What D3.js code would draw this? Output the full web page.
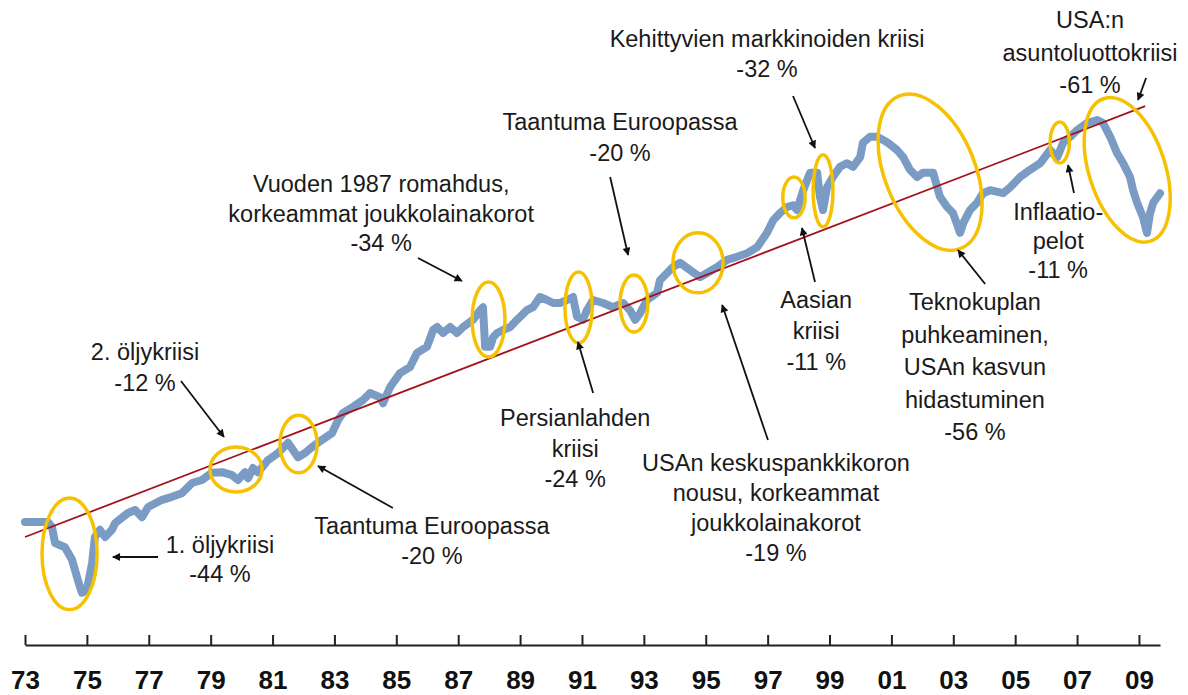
<!DOCTYPE html>
<html>
<head>
<meta charset="utf-8">
<script src="https://cdn.jsdelivr.net/npm/d3@7/dist/d3.min.js"></script>
<style>
  body { margin: 0; background: #fff; }
  svg text { font-family: "Liberation Sans", Arial, Helvetica, sans-serif; }
</style>
</head>
<body>
<div id="chart"></div>
<script>
// osakeindeksi (log-asteikko, suhteellinen taso) luettu kuvasta
var years = [1973.00,1973.74,1973.87,1973.97,1974.29,1974.52,1974.71,1974.84,1975.00,1975.17,
    1975.26,1975.42,1975.59,1975.81,1975.91,1976.33,1976.56,1976.78,1976.98,1977.43,
    1977.75,1978.07,1978.40,1978.72,1979.04,1979.37,1979.69,1979.88,1980.11,1980.21,
    1980.37,1980.53,1980.85,1981.18,1981.50,1981.82,1982.05,1982.28,1982.60,1982.92,
    1983.12,1983.28,1983.60,1983.92,1984.15,1984.47,1984.57,1984.80,1985.12,1985.44,
    1985.67,1985.99,1986.19,1986.32,1986.51,1986.74,1986.96,1987.16,1987.48,1987.71,
    1987.80,1987.87,1988.03,1988.13,1988.26,1988.45,1988.68,1988.90,1989.00,1989.22,
    1989.42,1989.64,1989.87,1990.07,1990.29,1990.52,1990.71,1990.84,1991.03,1991.16,
    1991.36,1991.68,1992.00,1992.33,1992.55,1992.72,1992.88,1993.10,1993.43,1993.52,
    1993.94,1994.17,1994.49,1994.82,1995.04,1995.37,1995.69,1996.01,1996.34,1996.66,
    1996.98,1997.18,1997.40,1997.63,1997.82,1997.95,1998.15,1998.37,1998.60,1998.69,
    1998.79,1998.92,1999.11,1999.34,1999.56,1999.76,1999.99,2000.08,2000.31,2000.54,
    2000.86,2001.18,2001.38,2001.60,2001.83,2002.02,2002.35,2002.57,2002.80,2002.99,
    2003.22,2003.32,2003.54,2003.77,2003.96,2004.19,2004.61,2004.84,2005.16,2005.48,
    2005.81,2006.13,2006.36,2006.55,2006.78,2007.00,2007.32,2007.65,2007.84,2008.07,
    2008.29,2008.49,2008.71,2008.81,2008.94,2009.13,2009.26,2009.36,2009.46,2009.68]
var index = [20.5,20.5,19.7,17.0,16.3,14.2,10.8,8.7,9.2,13.7,
    18.0,19.2,18.0,19.2,20.3,22.0,22.5,21.3,23.0,24.2,
    24.7,25.3,27.0,27.5,28.7,28.8,28.3,27.5,28.8,27.8,
    29.5,28.8,30.8,32.0,33.7,31.3,32.0,33.0,34.2,35.3,
    37.5,38.7,39.7,40.8,42.0,41.3,40.3,43.0,45.3,46.3,
    48.7,49.7,52.5,53.0,52.0,53.0,52.0,53.0,54.2,55.8,
    56.3,49.7,49.7,51.3,52.0,52.5,53.0,54.2,54.7,55.8,
    56.3,58.0,57.5,57.0,57.0,57.5,58.0,54.7,54.2,55.8,
    57.5,57.0,56.3,57.0,55.8,54.2,55.3,57.5,58.7,60.8,
    63.0,63.7,62.5,61.3,62.0,63.0,64.2,64.7,65.3,66.3,
    68.7,70.8,72.0,73.0,73.3,72.5,75.8,78.7,78.7,74.7,
    72.5,76.3,78.0,79.7,80.3,79.7,81.3,83.7,84.7,84.7,
    83.8,82.5,81.3,79.2,78.0,78.7,78.7,74.7,73.0,72.0,
    68.7,70.3,72.5,73.7,75.3,75.8,75.3,76.3,78.0,79.2,
    80.3,82.5,81.3,83.7,84.7,85.8,87.0,87.5,87.0,84.7,
    82.0,80.3,78.0,75.8,73.7,71.3,68.7,72.0,73.7,75.3]

// pitkän aikavälin trendi
var trendYears = [1973.0, 2009.2]
var trendValues = [18.0, 89.8]

var tickYears = [1973,1975,1977,1979,1981,1983,1985,1987,1989,1991,1993,1995,1997,1999,2001,2003,2005,2007,2009]
var tickLabels = ['73','75','77','79','81','83','85','87','89','91','93','95','97','99','01','03','05','07','09']

// kriisit: keskikohta (vuosi, taso), puolileveys vuosina, puolikorkeus tasoyksikköinä, kallistus
var crisisYear  = [1974.44, 1979.82, 1981.84, 1987.98, 1990.89, 1992.68, 1994.75, 1997.85, 1998.79, 2002.25, 2006.44, 2008.62]
var crisisLevel = [15.2, 29.25, 33.5, 54.25, 56.25, 56.9, 63.7, 74.6, 75.7, 78.8, 83.75, 79.2]
var crisisHalfYears = [0.89, 0.84, 0.6, 0.53, 0.44, 0.45, 0.81, 0.36, 0.32, 1.46, 0.31, 1.23]
var crisisHalfLevel = [9.3, 3.75, 4.8, 6.25, 5.9, 4.75, 5.0, 3.4, 6.0, 13.7, 3.4, 12.5]
var crisisTilt = [0, 0, 0, 0, 0, 0, 0, 0, 0, -22, 0, -18]

// selitteet
var labelLines = [
    ['1. öljykriisi', '-44 %'],
    ['2. öljykriisi', '-12 %'],
    ['Taantuma Euroopassa', '-20 %'],
    ['Vuoden 1987 romahdus,', 'korkeammat joukkolainakorot', '-34 %'],
    ['Taantuma Euroopassa', '-20 %'],
    ['Persianlahden', 'kriisi', '-24 %'],
    ['Kehittyvien markkinoiden kriisi', '-32 %'],
    ['USAn keskuspankkikoron', 'nousu, korkeammat', 'joukkolainakorot', '-19 %'],
    ['Aasian', 'kriisi', '-11 %'],
    ['Teknokuplan', 'puhkeaminen,', 'USAn kasvun', 'hidastuminen', '-56 %'],
    ['Inflaatio-', 'pelot', '-11 %'],
    ['USA:n', 'asuntoluottokriisi', '-61 %']
]
var labelYear  = [1979.30, 1976.88, 1986.15, 1984.51, 1992.23, 1990.78, 1996.98, 1997.27, 1998.57, 2003.70, 2006.39, 2007.42]
var labelLevel = [15.3, 47.5, 18.5, 75.5, 85.8, 36.5, 99.7, 29.0, 56.2, 55.8, 70.8, 102.8]
var lineGap = [29, 31, 30, 29.5, 31, 30.5, 30, 30, 31, 32.5, 29, 32.5]

// nuolet: alku -> kärki
var arrowFromYear  = [1977.30, 1978.04, 1984.89, 1985.70, 1991.91, 1991.36, 1997.82, 1997.01, 1998.53, 2004.03, 2006.90, 2009.23]
var arrowFromLevel = [14.67, 44.0, 22.83, 64.5, 78.0, 42.0, 91.5, 34.17, 60.5, 60.17, 75.33, 94.5]
var arrowToYear    = [1975.84, 1979.43, 1982.47, 1987.12, 1992.49, 1990.87, 1998.53, 1995.53, 1998.11, 2003.15, 2006.71, 2008.97]
var arrowToLevel   = [14.67, 34.67, 29.83, 60.67, 65.0, 50.5, 82.83, 56.67, 69.5, 65.83, 80.0, 90.83]

function makeCrisisChart() {
    var width = 1188, height = 695

    d3.select("#chart").html('')
    var svg = d3.select("#chart")
        .append("svg")
        .attr("width", width)
        .attr("height", height)

    var x = d3.scaleLinear()
        .domain([1973, 2009.68])
        .range([25, 1160])
    var y = d3.scaleLinear()
        .domain([0, 100])
        .range([645, 45])

    var data = years.map(function(d, i) { return {year: d, value: index[i]} })
    var trend = trendYears.map(function(d, i) { return {year: d, value: trendValues[i]} })

    // X axis
    var axis = svg.append("g")
        .attr("transform", "translate(0,645)")
        .call(d3.axisBottom(x)
            .tickValues(tickYears)
            .tickSize(-10)
            .tickSizeOuter(0)
            .tickFormat(function(d, i) { return tickLabels[i] }))
    axis.select(".domain").attr("stroke", "#222").attr("stroke-width", 2)
    axis.selectAll(".tick line").attr("stroke", "#222").attr("stroke-width", 2)
    axis.selectAll(".tick text")
        .attr("y", 44)
        .attr("dy", 0)
        .attr("fill", "#111")
        .style("font-size", "26px")
        .style("font-weight", "bold")
        .style("font-family", "'Liberation Sans', Arial, sans-serif")

    // index line
    svg.append("path")
        .datum(data)
        .attr("fill", "none")
        .attr("stroke", "#7a9bc3")
        .attr("stroke-width", 8)
        .attr("stroke-linejoin", "round")
        .attr("stroke-linecap", "round")
        .attr("d", d3.line()
            .x(function(d) { return x(d.year) })
            .y(function(d) { return y(d.value) }))

    // trend line
    svg.append("path")
        .datum(trend)
        .attr("fill", "none")
        .attr("stroke", "#a3121c")
        .attr("stroke-width", 1.8)
        .attr("d", d3.line()
            .x(function(d) { return x(d.year) })
            .y(function(d) { return y(d.value) }))

    // crisis ellipses
    svg.selectAll("crisis")
        .data(crisisYear)
        .enter()
        .append("ellipse")
        .attr("cx", 0)
        .attr("cy", 0)
        .attr("rx", function(d, i) { return x(d + crisisHalfYears[i]) - x(d) })
        .attr("ry", function(d, i) { return y(crisisLevel[i] - crisisHalfLevel[i]) - y(crisisLevel[i]) })
        .attr("transform", function(d, i) {
            return "translate(" + x(d) + "," + y(crisisLevel[i]) + ") rotate(" + crisisTilt[i] + ")"
        })
        .attr("fill", "none")
        .attr("stroke", "#f6c100")
        .attr("stroke-width", 3.5)

    // arrows
    svg.append("defs").append("marker")
        .attr("id", "head")
        .attr("viewBox", "0 0 10 10")
        .attr("refX", 9)
        .attr("refY", 5)
        .attr("markerWidth", 11)
        .attr("markerHeight", 8)
        .attr("markerUnits", "userSpaceOnUse")
        .attr("orient", "auto")
        .append("path")
        .attr("d", "M0,0 L10,5 L0,10 Z")
        .attr("fill", "#111")

    svg.selectAll("arrows")
        .data(arrowFromYear)
        .enter()
        .append("line")
        .attr("x1", function(d) { return x(d) })
        .attr("y1", function(d, i) { return y(arrowFromLevel[i]) })
        .attr("x2", function(d, i) { return x(arrowToYear[i]) })
        .attr("y2", function(d, i) { return y(arrowToLevel[i]) })
        .attr("stroke", "#111")
        .attr("stroke-width", 1.8)
        .attr("marker-end", "url(#head)")

    // labels
    labelLines.forEach(function(lines, i) {
        var t = svg.append("text")
            .attr("x", x(labelYear[i]))
            .attr("y", y(labelLevel[i]))
            .attr("text-anchor", "middle")
            .attr("fill", "#1a1a1a")
            .style("font-size", "23.5px")
        lines.forEach(function(line, j) {
            t.append("tspan")
                .attr("x", x(labelYear[i]))
                .attr("dy", j == 0 ? 0 : lineGap[i])
                .text(line)
        })
    })
}
makeCrisisChart()
</script>
</body>
</html>
